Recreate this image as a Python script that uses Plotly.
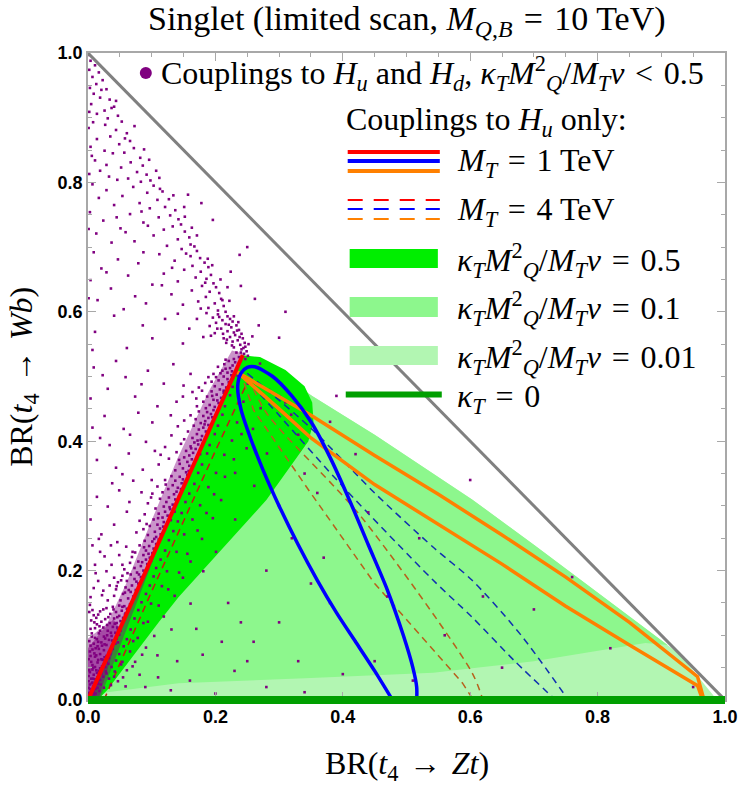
import plotly.graph_objects as go

# ---------------- data (BR values) ----------------
# scan points, thousandths of BR: (BR(t4->Zt), BR(t4->Wb))
scan_upper = [(1,997),(4,988),(11,981),(2,974),(17,970),(7,963),(23,958),(13,952),(3,946),(29,944),(9,937),(19,931),(34,928),(5,921),(41,917),(26,911),(14,906),(47,903),(31,899),(2,909),(37,915),(21,943),(44,926),
 (8,893),(53,894),(27,889),(44,881),(1,884),(61,876),(35,871),(14,867),(66,864),(49,859),(4,855),(72,853),(26,849),(57,846),(39,845),(82,838),(11,834),(67,831),(86,826),(52,823),(19,818),(77,816),(92,812),(33,809),(63,806),(98,803),(83,801),(2,813),(46,804),(107,818),(58,868),(73,887),(96,835),(29,827),(6,841),(112,807),(88,851),
 (7,797),(71,793),(103,795),(29,788),(93,784),(117,786),(54,779),(17,776),(109,773),(127,774),(81,768),(41,765),(121,762),(97,760),(137,757),(3,754),(66,751),(129,749),(111,746),(142,743),(24,741),(87,738),(146,735),(133,732),(51,729),(119,727),(152,724),(13,721),(103,718),(159,715),(141,712),(73,709),(37,707),(161,704),(124,702),(167,701),(94,733),(59,723),(151,762),(178,768),(196,742),(1,728),(113,790),(134,780),(84,755),(152,747),(163,730),(171,718),(45,746),(157,781),
 (147,697),(171,694),(9,692),(112,689),(161,686),(176,683),(47,681),(136,679),(183,676),(79,675),(164,671),(189,669),(21,667),(151,665),(177,662),(119,659),(193,657),(63,656),(169,653),(186,651),(4,649),(141,647),(197,644),(101,642),(179,640),(201,638),(36,636),(163,633),(191,631),(206,629),(131,627),(74,624),(185,623),(209,620),(15,618),(173,616),(199,613),(149,611),(213,609),(189,606),(56,604),(204,602),(216,600),(116,641),(91,613),(29,661),(224,662),(238,688),(1,621),(177,605),(154,690),(188,682),(195,672),(208,650),(219,638),(211,618),(184,645),(132,668),(87,692),(222,617)]
scan_band = [(186,598),(204,596),(219,593),(141,597),(196,591),(223,589),(211,587),(171,589),(227,585),(201,583),(216,581),(233,579),(191,578),(225,576),(209,574),(237,572),(159,574),(219,570),(229,568),(241,566),(199,567),(231,564),(223,561),(213,559),(243,559),(235,556),(227,554),(246,552),(217,552),(239,549),(247,546),(229,545),(241,542),(249,539),(233,537),(245,535),(251,532),(237,530),(121,589),(86,579),(41,594),(11,569),(101,559),(61,544),(149,551),(181,561),(258,562),(268,579),(7,541),(206,592),(221,580),(234,571),(212,566),(226,548),(238,561),(244,544),(203,574),(193,563),(229,593),(236,584),(218,557),(252,550),(247,527),(240,537),
 (229,527),(221,524),(237,521),(214,519),(227,517),(204,515),(223,513),(233,511),(211,509),(219,506),(197,504),(225,502),(213,500),(189,499),(219,496),(205,494),(221,491),(184,490),(211,488),(199,485),(217,483),(174,483),(207,480),(194,477),(213,475),(164,476),(202,472),(187,469),(209,467),(149,469),(197,464),(181,461),(205,459),(139,461),(191,456),(199,453),(171,454),(185,451),(119,489),(94,509),(59,499),(31,481),(74,469),(109,454),(9,514),(44,524),(134,519),(161,504),(4,466),(216,526),(231,522),(208,505),(194,492),(227,497),(213,478),(203,463),(195,470),(179,478),(226,508),(216,512),(201,499),(170,466),(84,488),(23,502),(150,486),
 (197,448),(187,445),(174,446),(193,442),(181,439),(161,440),(189,436),(169,434),(184,431),(151,432),(177,428),(189,425),(166,424),(181,421),(141,423),(174,418),(185,415),(157,415),(171,411),(179,408),(131,409),(164,405),(177,402),(151,403),(167,398),(173,395),(146,396),(161,392),(169,388),(121,391),(154,385),(165,382),(139,383),(159,378),(151,375),(163,372),(127,373),(156,368),(144,365),(159,362),(111,364),(149,358),(137,355),(154,352),(101,429),(79,444),(56,419),(26,439),(91,399),(64,381),(34,394),(7,421),(114,379),(44,359),(86,356),(14,371),(195,437),(183,426),(172,401),(187,412),(162,389),(176,380),(143,371),(158,354),(191,420),(180,396),(130,440),(66,410),(105,385),(19,405),
 (156,348),(144,345),(131,346),(149,341),(137,339),(121,340),(147,335),(133,332),(141,328),(109,330),(126,326),(139,322),(117,321),(135,318),(101,319),(127,313),(137,310),(113,311),(123,306),(133,302),(94,304),(119,299),(129,295),(106,296),(121,291),(111,288),(125,285),(89,287),(117,282),(103,279),(119,275),(81,277),(109,271),(97,269),(113,265),(87,264),(105,260),(114,256),(94,255),(107,252),(71,339),(49,324),(31,299),(61,291),(14,314),(41,271),(76,259),(4,279),(84,321),(54,349),(21,256),(152,337),(143,315),(128,298),(136,291),(118,268),(110,281),(146,326),(99,313),(122,333),(65,306),(38,335),(92,272),(130,278),(100,340),
 (111,248),(101,245),(89,246),(107,241),(96,238),(81,239),(103,234),(91,231),(101,227),(74,228),(87,224),(97,220),(69,221),(91,217),(79,214),(93,210),(66,212),(83,207),(73,204),(87,200),(57,202),(77,197),(67,194),(83,190),(54,192),(73,187),(61,184),(79,180),(47,182),(69,177),(59,174),(75,170),(44,171),(67,167),(55,164),(71,160),(41,161),(63,157),(51,154),(69,151),(36,239),(19,229),(49,224),(11,209),(29,199),(16,184),(41,189),(24,169),(4,159),(46,244),(31,154),(7,239),(54,209),(17,249),(104,249),(95,226),(85,213),(62,196),(76,183),(58,166),(45,176),(88,236),(99,215),(80,194),(37,209),(26,222),(60,237),(12,196),(52,185),(34,177),(22,162),(70,229),(9,173),(64,170)]
scan_core = [(66,148),(57,145),(49,146),(39,144),(61,141),(29,142),(53,138),(44,136),(19,137),(59,134),(35,133),(49,130),(9,131),(55,127),(41,126),(27,125),(51,122),(45,119),(34,119),(14,117),(53,115),(39,113),(24,112),(47,109),(4,110),(31,107),(43,104),(17,103),(49,101),(37,99),(25,98),(45,95),(11,96),(33,93),(41,90),(21,89),(2,91),(43,87),(29,85),(37,82),(15,83),(39,79),(25,77),(7,78),(33,74),(35,71),(19,71),(29,68),(11,67),(33,65),(23,62),(1,63),(29,59),(15,58),(25,55),(7,54),(27,51),(19,49),(63,139),(57,124),(47,89),(51,107),
 (3,147),(7,139),(13,127),(21,121),(5,123),(11,111),(19,107),(27,95),(9,87),(17,79),(3,75),(13,69),(21,63),(5,59),(11,51),(17,45),(3,43),(9,39),(15,35),(21,41),(1,29),(7,27),(13,25),(19,31),(3,17),(9,13),(15,19),(5,7),(11,5),(1,11),
 (2,46),(7,47),(13,46),(17,39),(1,37),(5,33),(11,32),(15,29),(3,24),(8,21),(12,17),(1,19),(5,14),(9,9),(2,7),(4,3),(7,2),(1,1),(11,23),(16,25),
 (24,140),(16,132),(32,128),(42,118),(6,103),(14,94),(30,100),(22,84),(36,78),(10,72),(26,66),(16,62),(8,50),(22,52),(14,42),(24,36),(6,26),(12,10),(18,14),(8,33),(28,44),(20,24),(4,68),(38,92),(46,112),(58,132),(40,140),(18,114),(30,116),(10,120),(4,84),(12,80),(26,86),(32,56),(36,104),(46,128),(54,144),(2,136),(6,98),(16,90)]
scan_inside = [(29,41),(37,51),(44,61),(49,71),(56,83),(61,94),(67,109),(73,126),(79,139),(84,151),(91,164),(97,177),(103,191),(107,204),(114,217),(121,231),(127,247),(134,261),(141,276),(147,289),(153,306),(159,319),(167,334),(173,351),(179,364),(187,381),(191,394),(199,411),(204,424),(211,441),(215,454),(223,471),(227,484),(235,501),(41,36),(54,59),(71,91),(87,119),(99,149),(116,176),(124,199),(139,229),(151,256),(164,279),(176,301),(189,329),(201,351),(214,379),(226,401),(234,429),(244,461),(251,489),(25,19),(36,23),(47,29),(61,46),(74,59),(91,81),(104,99),(119,129),(136,161),(149,189),(161,214),(179,249),(196,281),(209,309),(231,351),(249,389),(259,419),(271,451),(284,479),(301,469),(319,441),(281,381),(261,331),(231,279),(201,229),(181,199),(161,149),(131,109),(109,69),(81,39),(59,21),(33,33),(42,44),(52,55),(66,75),(78,96),(94,121),(111,146),(126,171),(143,197),(156,226),(172,262),(186,289),(198,318),(215,345),(229,372),(241,411),(55,35),(70,52),(85,70)]
scan_sparse = [(90,20),(130,15),(160,30),(200,10),(230,45),(280,20),(340,12),(330,60),(260,90),(300,120),(220,150),(240,120),(350,180),(280,200),(320,250),(380,150),(420,90),(450,60),(400,40),(370,220),(300,300),(340,350),(360,320),(330,410),(390,470),(420,380),(310,460),(270,520),(290,500),(380,430),(440,290),(520,250),(560,100),(650,50),(700,140),(820,80),(760,190),(600,340),(950,20),(470,160),(510,30),(620,160),(180,70),(210,90),(140,60),(250,60),(110,35),(170,110),(240,640),(262,620),(300,560),(250,700),(310,600)]
# outlines of the saturated (densely populated) parts of the scan
dense_x = [0.000,0.018,0.120,0.200,0.245,0.226,0.190,0.140,0.095,0.060,0.030,0.000]
dense_y = [0.000,0.000,0.262,0.440,0.535,0.540,0.478,0.372,0.266,0.180,0.118,0.095]
core_x = [0.000,0.016,0.050,0.040,0.020,0.000]
core_y = [0.000,0.000,0.110,0.125,0.105,0.080]

# M_T = 1 TeV contours
red1_x = [0.0, 0.243]
red1_y = [0.0, 0.533]
blue1_x = [0.478,0.450,0.420,0.390,0.360,0.330,0.300,0.275,0.255,0.240,0.235,0.240,0.250,0.262,0.290,0.320,0.350,0.380,0.410,0.440,0.470,0.495,0.510,0.516,0.516]
blue1_y = [0.0,0.045,0.090,0.135,0.185,0.240,0.300,0.355,0.405,0.450,0.485,0.505,0.514,0.515,0.500,0.470,0.430,0.375,0.310,0.240,0.170,0.100,0.050,0.020,0.0]
orange1_x = [0.965,0.957,0.850,0.750,0.650,0.550,0.450,0.350,0.300,0.234,0.350,0.450,0.550,0.650,0.750,0.850,0.957,0.967]
orange1_y = [0.0,0.022,0.085,0.145,0.210,0.272,0.333,0.405,0.450,0.507,0.440,0.378,0.318,0.255,0.190,0.120,0.036,0.0]
# M_T = 4 TeV contours
red4_x = [0.025,0.100,0.200,0.252]
red4_y = [0.0,0.168,0.385,0.495]
orange4a_x = [0.245,0.260,0.346,0.450,0.588,0.605]
orange4a_y = [0.490,0.448,0.325,0.180,0.026,0.0]
orange4b_x = [0.252,0.280,0.429,0.603,0.620]
orange4b_y = [0.498,0.444,0.283,0.042,0.0]
blue4a_x = [0.250,0.350,0.450,0.542,0.603,0.680,0.754]
blue4a_y = [0.505,0.420,0.320,0.236,0.185,0.100,0.0]
blue4b_x = [0.245,0.300,0.400,0.542,0.603,0.670,0.734]
blue4b_y = [0.500,0.440,0.330,0.185,0.128,0.060,0.0]
# allowed regions
g05_x = [0.0,0.243,0.270,0.310,0.340,0.352,0.354,0.346,0.280,0.142,0.111,0.060,0.030,0.015]
g05_y = [0.0,0.533,0.530,0.510,0.485,0.460,0.430,0.400,0.309,0.159,0.120,0.055,0.015,0.0]
g01_x = [0.0,0.243,0.300,0.352,0.450,0.542,0.603,0.700,0.850,0.910,0.875,0.700,0.603,0.542,0.350,0.142,0.030]
g01_y = [0.0,0.533,0.505,0.470,0.410,0.350,0.310,0.240,0.130,0.085,0.088,0.060,0.049,0.042,0.034,0.026,0.012]
g001_x = [0.0,0.243,0.300,0.352,0.450,0.542,0.603,0.700,0.850,0.930,0.985,0.985]
g001_y = [0.0,0.533,0.505,0.470,0.410,0.350,0.310,0.240,0.130,0.070,0.003,0.0]
kappa0_x = [0.0, 1.0]
kappa0_y = [0.0, 0.0]
diag_x = [0.0, 1.0]
diag_y = [1.0, 0.0]

tick_vals = [0.0, 0.2, 0.4, 0.6, 0.8, 1.0]
tick_text = ["0.0", "0.2", "0.4", "0.6", "0.8", "1.0"]
minor_vals = [i / 20 for i in range(21)]

C_BRIGHT = "#00ee00"
C_MED = "#8df78d"
C_LIGHT = "#b2f6b2"
C_DARK = "#009f00"
PURPLE = "#800080"

fig = go.Figure()

def poly(x, y, color):
    fig.add_trace(go.Scatter(x=x, y=y, fill="toself", fillcolor=color, mode="lines",
                             line=dict(width=0, color=color), hoverinfo="skip", showlegend=False))

poly(g001_x, g001_y, C_LIGHT)
poly(g01_x, g01_y, C_MED)
poly(g05_x, g05_y, C_BRIGHT)

def line(x, y, color, width, dash=None, shape="linear"):
    fig.add_trace(go.Scatter(x=x, y=y, mode="lines",
                             line=dict(color=color, width=width, dash=dash, shape=shape, smoothing=0.8),
                             hoverinfo="skip", showlegend=False))

line(red4_x, red4_y, "#c81818", 1.5, "7px,5px")
line(orange4a_x, orange4a_y, "#b8601c", 1.5, "7px,5px")
line(orange4b_x, orange4b_y, "#b8601c", 1.5, "7px,5px", "spline")
line(blue4a_x, blue4a_y, "#1030b0", 1.5, "7px,5px", "spline")
line(blue4b_x, blue4b_y, "#1030b0", 1.5, "7px,5px", "spline")

poly(dense_x, dense_y, "rgba(128,0,128,0.42)")
poly(core_x, core_y, "rgba(128,0,128,0.5)")

all_pts = scan_upper + scan_band + scan_core + scan_inside + scan_sparse
fig.add_trace(go.Scatter(x=[p[0] / 1000 for p in all_pts], y=[p[1] / 1000 for p in all_pts], mode="markers",
                         marker=dict(color=PURPLE, size=2.6, symbol="square", line=dict(width=0)),
                         hoverinfo="skip", showlegend=False))

line(diag_x, diag_y, "#808080", 3)
line(orange1_x, orange1_y, "#ff8000", 3.5)
line(blue1_x, blue1_y, "#0000ff", 3.5, None, "spline")
line(red1_x, red1_y, "#ff0000", 4)

shapes = []
# kappa_T = 0 line along BR(Wb)=0
shapes.append(dict(type="line", xref="x", yref="y domain", x0=kappa0_x[0], x1=kappa0_x[1],
                   y0=kappa0_y[0], y1=kappa0_y[1], line=dict(color=C_DARK, width=8), layer="above"))

# ---- legend (pixel positions converted to paper) ----
def px(x):
    return (x - 88) / 650
def py(y):
    return (700 - y) / 647

shapes.append(dict(type="circle", xref="paper", yref="paper", xsizemode="pixel", ysizemode="pixel",
                   xanchor=px(147), yanchor=py(73), x0=-6, x1=6, y0=-6, y1=6,
                   fillcolor=PURPLE, line=dict(width=0)))
for yy, col in [(152, "#ff0000"), (161, "#0000ff"), (171, "#ff8000")]:
    shapes.append(dict(type="line", xref="paper", yref="paper", x0=px(353), x1=px(447), y0=py(yy), y1=py(yy),
                       line=dict(color=col, width=4)))
for yy, col in [(200, "#ff0000"), (209, "#0000ff"), (219, "#ff8000")]:
    shapes.append(dict(type="line", xref="paper", yref="paper", x0=px(353), x1=px(447), y0=py(yy), y1=py(yy),
                       line=dict(color=col, width=2, dash="15px,11px")))
for (y0, y1), col in [((249, 268), C_BRIGHT), ((297, 317), C_MED), ((346, 365), C_LIGHT)]:
    shapes.append(dict(type="rect", xref="paper", yref="paper", x0=px(355), x1=px(445), y0=py(y1), y1=py(y0),
                       fillcolor=col, line=dict(width=0)))
shapes.append(dict(type="line", xref="paper", yref="paper", x0=px(351), x1=px(449), y0=py(394.5), y1=py(394.5),
                   line=dict(color=C_DARK, width=6)))

SERIF = "Liberation Serif"
FS = 32
SP = "&#8196;"
EQ = SP + "=" + SP
kap = "<i>κ</i><sub><i>T</i></sub><i>M</i><sup>2</sup><sub><i>Q</i></sub>/<i>M</i><sub><i>T</i></sub><i>v</i>"
ann = []
def text(x, y, s, size=FS, xanchor="left", angle=0):
    ann.append(dict(xref="paper", yref="paper", x=x, y=y, text=s, showarrow=False, xanchor=xanchor,
                    yanchor="middle", textangle=angle, font=dict(family=SERIF, size=size, color="black")))

text(px(160), py(73), "Couplings to <i>H</i><sub><i>u</i></sub> and <i>H</i><sub><i>d</i></sub>, " + kap + SP + "&lt;" + SP + "0.5")
text(px(349), py(121), "Couplings to <i>H</i><sub><i>u</i></sub> only:")
text(px(462), py(162), "<i>M</i><sub><i>T</i></sub>" + EQ + "1 TeV")
text(px(462), py(211), "<i>M</i><sub><i>T</i></sub>" + EQ + "4 TeV")
text(px(462), py(260), kap + EQ + "0.5")
text(px(462), py(308), kap + EQ + "0.1")
text(px(462), py(357), kap + EQ + "0.01")
text(px(462), py(398), "<i>κ</i><sub><i>T</i></sub>" + EQ + "0")

text(0.5, py(21), "Singlet (limited scan, <i>M</i><sub><i>Q</i>,<i>B</i></sub>" + EQ + "10 TeV)", size=34, xanchor="center")
text(0.5, py(765), "BR(<i>t</i><sub>4</sub>" + SP + "→" + SP + "<i>Zt</i>)", size=32, xanchor="center")
text(px(22), 0.5, "BR(<i>t</i><sub>4</sub>" + SP + "→" + SP + "<i>Wb</i>)", size=32, xanchor="center", angle=-90)

axis_common = dict(range=[0, 1], tickvals=tick_vals, ticktext=tick_text, ticks="inside", ticklen=8,
                   tickcolor="#a8a8a8", tickwidth=1, showline=True, linecolor="#a8a8a8", linewidth=1.5,
                   mirror="allticks", showgrid=False, zeroline=False,
                   tickfont=dict(family="Liberation Sans", size=18, color="black", weight="bold"),
                   minor=dict(tickvals=minor_vals, ticks="inside", ticklen=4, tickcolor="#a8a8a8", showgrid=False))

fig.update_layout(width=750, height=788, margin=dict(l=88, r=12, t=53, b=88),
                  paper_bgcolor="white", plot_bgcolor="white", showlegend=False,
                  xaxis=axis_common, yaxis=axis_common, shapes=shapes, annotations=ann)

fig.write_html("out.html")
